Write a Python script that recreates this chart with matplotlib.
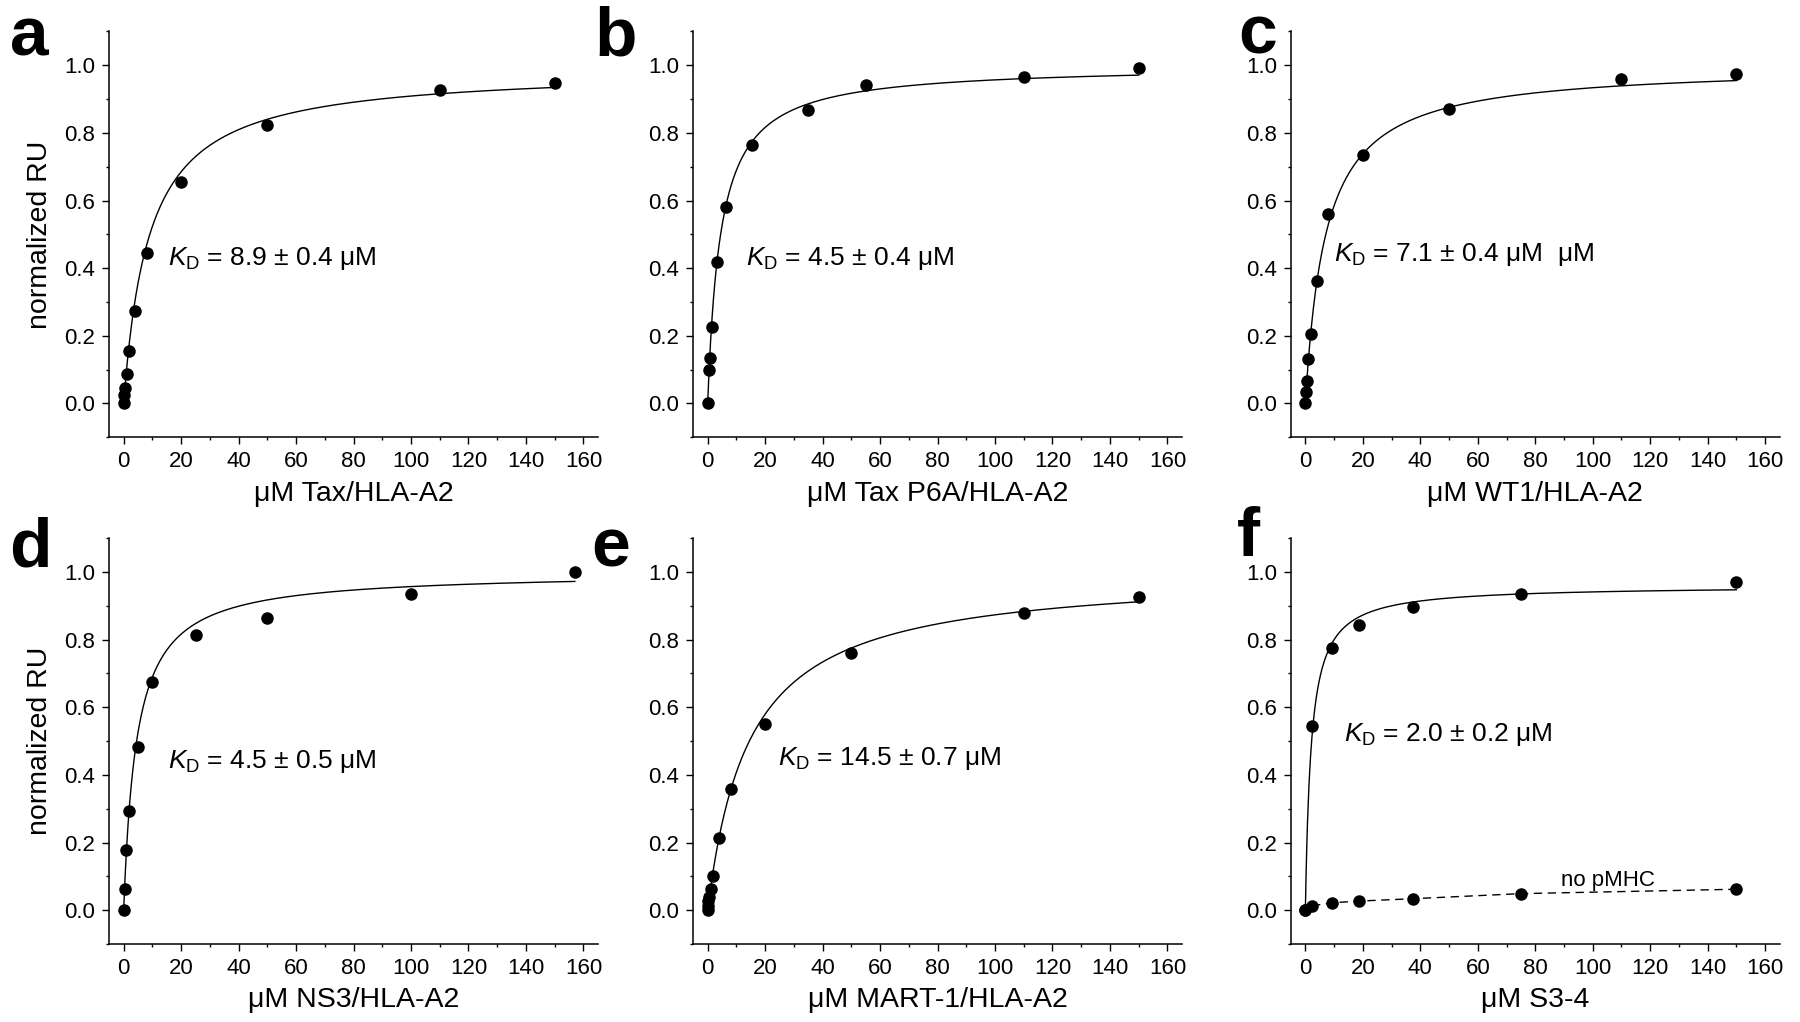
import numpy as np
import matplotlib
matplotlib.use("Agg")
import matplotlib.pyplot as plt
from matplotlib.ticker import MultipleLocator

plt.rcParams['font.family'] = ['Liberation Sans', 'DejaVu Sans']
plt.rcParams['mathtext.fontset'] = 'custom'
plt.rcParams['mathtext.rm'] = 'Liberation Sans'
plt.rcParams['mathtext.it'] = 'Liberation Sans:italic'

# panel data (concentration in uM, normalized RU)
x_a = [0, 0.25, 0.5, 1, 2, 4, 8, 20, 50, 110, 150]
y_a = [0, 0.025, 0.047, 0.088, 0.155, 0.273, 0.444, 0.656, 0.823, 0.927, 0.949]

x_b = [0, 0.45, 0.7, 1.4, 3.3, 6.5, 15.6, 35, 55, 110, 150]
y_b = [0, 0.10, 0.134, 0.225, 0.419, 0.582, 0.765, 0.867, 0.942, 0.965, 0.993]

x_c = [0, 0.25, 0.5, 1, 2, 4, 8, 20, 50, 110, 150]
y_c = [0, 0.033, 0.066, 0.133, 0.206, 0.362, 0.561, 0.735, 0.87, 0.96, 0.975]

x_d = [0, 0.5, 0.8, 2, 5, 10, 25, 50, 100, 157]
y_d = [0, 0.063, 0.177, 0.293, 0.482, 0.675, 0.815, 0.865, 0.935, 1.0]

x_e = [0, 0.125, 0.25, 0.5, 1, 2, 4, 8, 20, 50, 110, 150]
y_e = [0, 0.013, 0.027, 0.039, 0.064, 0.102, 0.213, 0.359, 0.552, 0.761, 0.879, 0.927]

x_f = [0, 2.34, 9.38, 18.75, 37.5, 75, 150]
y_f = [0, 0.544, 0.775, 0.843, 0.898, 0.934, 0.97]
y_f_nopmhc = [0, 0.013, 0.022, 0.027, 0.034, 0.049, 0.062]

# fit parameters (KD from the labels, Bmax estimated)
kd = [8.9, 4.5, 7.1, 4.5, 14.5, 2.0]
bmax = [0.99, 1.0, 1.0, 1.0, 1.0, 0.96]
fit_end = [150, 150, 150, 157, 150, 150]

xs = [x_a, x_b, x_c, x_d, x_e, x_f]
ys = [y_a, y_b, y_c, y_d, y_e, y_f]
letters = ['a', 'b', 'c', 'd', 'e', 'f']
xlabels = ['μM Tax/HLA-A2', 'μM Tax P6A/HLA-A2', 'μM WT1/HLA-A2',
           'μM NS3/HLA-A2', 'μM MART-1/HLA-A2', 'μM S3-4']
kd_texts = [r'$\mathit{K}_{\mathrm{D}}$ = 8.9 ± 0.4 μM',
            r'$\mathit{K}_{\mathrm{D}}$ = 4.5 ± 0.4 μM',
            r'$\mathit{K}_{\mathrm{D}}$ = 7.1 ± 0.4 μM  μM',
            r'$\mathit{K}_{\mathrm{D}}$ = 4.5 ± 0.5 μM',
            r'$\mathit{K}_{\mathrm{D}}$ = 14.5 ± 0.7 μM',
            r'$\mathit{K}_{\mathrm{D}}$ = 2.0 ± 0.2 μM']
kd_pos = [(15.5, 0.43), (13.5, 0.43), (10, 0.44), (15.5, 0.44), (24.5, 0.45), (13.5, 0.52)]

fig = plt.figure(figsize=(18, 10.22), dpi=100)

col_left = [109.3 / 1800, 693.3 / 1800, 1291 / 1800]
row_bottom = [0.5721, 0.0763]
w = 488.5 / 1800
h = 0.3971
letter_pos = [(10, 55), (594, 55), (1238, 53), (9, 566), (591, 566), (1237, 556)]

for i in range(6):
    r, c = divmod(i, 3)
    ax = fig.add_axes([col_left[c], row_bottom[r], w, h])

    xx = np.linspace(0, fit_end[i], 600)
    ax.plot(xx, bmax[i] * xx / (kd[i] + xx), color='black', lw=1.0)
    ax.plot(xs[i], ys[i], 'o', color='black', ms=8, zorder=3)

    if i == 5:
        # no pMHC control
        ax.plot(x_f[1:], y_f_nopmhc[1:], color='black', lw=1.0, ls=(0, (6, 4)))
        ax.plot(x_f, y_f_nopmhc, 'o', color='black', ms=8, zorder=3)
        ax.text(89, 0.088, 'no pMHC', fontsize=16, va='center', ha='left')

    ax.text(kd_pos[i][0], kd_pos[i][1], kd_texts[i], fontsize=19, va='center', ha='left')

    ax.set_xlim(-5, 165)
    ax.set_ylim(-0.1, 1.1)
    ax.xaxis.set_major_locator(MultipleLocator(20))
    ax.xaxis.set_minor_locator(MultipleLocator(10))
    ax.set_yticks([0.0, 0.2, 0.4, 0.6, 0.8, 1.0])
    ax.yaxis.set_minor_locator(MultipleLocator(0.1))
    ax.tick_params(which='major', direction='out', length=5, width=1.0, labelsize=16, pad=5)
    ax.tick_params(which='minor', direction='out', length=2.5, width=1.0)
    for s in ['top', 'right']:
        ax.spines[s].set_visible(False)
    for s in ['left', 'bottom']:
        ax.spines[s].set_linewidth(1.1)

    ax.set_xlabel(xlabels[i], fontsize=20.5, labelpad=6)
    if c == 0:
        ax.set_ylabel('normalized RU', fontsize=20.5, labelpad=8)

    lx, ly = letter_pos[i]
    fig.text(lx / 1800, 1 - ly / 1022, letters[i], fontsize=50, fontweight='bold',
             ha='left', va='baseline')

fig.savefig('out.png', dpi=100)
